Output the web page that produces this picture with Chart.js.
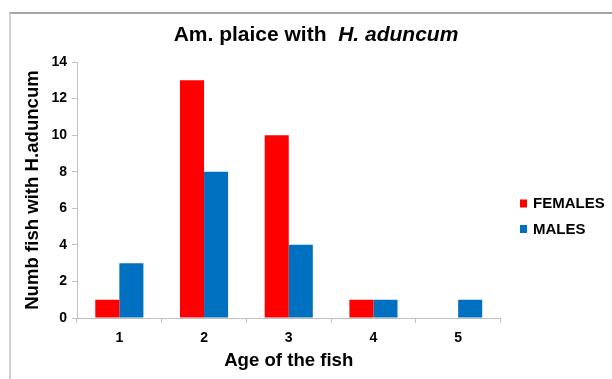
<!DOCTYPE html>
<html>
<head>
<meta charset="utf-8">
<script src="https://cdn.jsdelivr.net/npm/chart.js@4"></script>
<style>
  html, body { margin: 0; padding: 0; background: #fff; }
  #wrap { position: relative; width: 612px; height: 379px; overflow: hidden; }
  #frame { position: absolute; left: 9px; top: 12px; width: 620px; height: 400px;
           border-top: 2px solid #a6a6a6; border-left: 2px solid #d0d0d0; }
  canvas { position: absolute; left: 0; top: 0; }
</style>
</head>
<body>
<div id="wrap">
  <div id="frame"></div>
  <canvas id="c" width="612" height="379"></canvas>
</div>
<script>
const ages = ['1', '2', '3', '4', '5'];
const females = [1, 13, 10, 1, null];
const males = [3, 8, 4, 1, 1];
const seriesNames = ['FEMALES', 'MALES'];
const seriesColors = ['#ff0000', '#0070c0'];
const yTicks = [0, 2, 4, 6, 8, 10, 12, 14];
const titleParts = ['Am. plaice with  ', 'H. aduncum'];
const xTitle = 'Age of the fish';
const yTitle = 'Numb fish with H.aduncum';

const FONT = "'Liberation Sans', Arial, sans-serif";

const titlePlugin = {
  id: 'mixedTitle',
  afterDraw(chart) {
    const ctx = chart.ctx;
    ctx.save();
    ctx.fillStyle = '#000';
    ctx.textBaseline = 'alphabetic';
    ctx.textAlign = 'left';
    const f1 = 'bold 21px ' + FONT;
    const f2 = 'italic bold 21px ' + FONT;
    ctx.font = f1; const w1 = ctx.measureText(titleParts[0]).width;
    ctx.font = f2; const w2 = ctx.measureText(titleParts[1]).width;
    const x0 = 316 - (w1 + w2) / 2;
    ctx.font = f1; ctx.fillText(titleParts[0], x0, 41);
    ctx.font = f2; ctx.fillText(titleParts[1], x0 + w1, 41);
    ctx.restore();
  }
};

const legendPlugin = {
  id: 'sideLegend',
  afterDraw(chart) {
    const ctx = chart.ctx;
    ctx.save();
    ctx.font = 'bold 15px ' + FONT;
    ctx.textBaseline = 'middle';
    ctx.textAlign = 'left';
    chart.data.datasets.forEach((ds, i) => {
      const cy = 203.5 + i * 25.5;
      ctx.fillStyle = ds.backgroundColor;
      ctx.fillRect(520, cy - 4, 7, 8);
      ctx.fillStyle = '#000';
      ctx.fillText(ds.label, 533, cy + 0.5);
    });
    ctx.restore();
  }
};

new Chart(document.getElementById('c'), {
  type: 'bar',
  data: {
    labels: ages,
    datasets: [
      { label: seriesNames[0], data: females, backgroundColor: seriesColors[0], borderWidth: 0 },
      { label: seriesNames[1], data: males, backgroundColor: seriesColors[1], borderWidth: 0 }
    ]
  },
  plugins: [titlePlugin, legendPlugin],
  options: {
    responsive: false,
    animation: false,
    devicePixelRatio: 1,
    layout: { padding: { top: 62, right: 111.5, left: 0, bottom: 0 } },
    datasets: { bar: { categoryPercentage: 0.568, barPercentage: 1.0 } },
    plugins: {
      legend: { display: false },
      title: { display: false },
      tooltip: { enabled: false }
    },
    scales: {
      x: {
        grid: { display: true, drawOnChartArea: false, drawTicks: true, tickLength: 5, color: '#bfbfbf', offset: true },
        border: { display: true, color: '#bfbfbf', width: 1 },
        ticks: { color: '#000', padding: 7, font: { family: FONT, size: 14, weight: 'bold' } },
        title: { display: true, text: xTitle, color: '#000', padding: { top: 0, bottom: 7 },
                 font: { family: FONT, size: 18.6, weight: 'bold' } },
        afterFit(scale) { scale.height = 61; }
      },
      y: {
        min: 0, max: 14,
        afterBuildTicks(scale) { scale.ticks = yTicks.map(v => ({ value: v })); },
        grid: { display: true, drawOnChartArea: false, drawTicks: true, tickLength: 5, color: '#bfbfbf' },
        border: { display: true, color: '#bfbfbf', width: 1 },
        ticks: { color: '#000', padding: 5, font: { family: FONT, size: 14, weight: 'bold' } },
        title: { display: true, text: yTitle, color: '#000', padding: { top: 22, bottom: 0 },
                 font: { family: FONT, size: 18.6, weight: 'bold' } },
        afterFit(scale) { scale.width = 77; }
      }
    }
  }
});
</script>
</body>
</html>
